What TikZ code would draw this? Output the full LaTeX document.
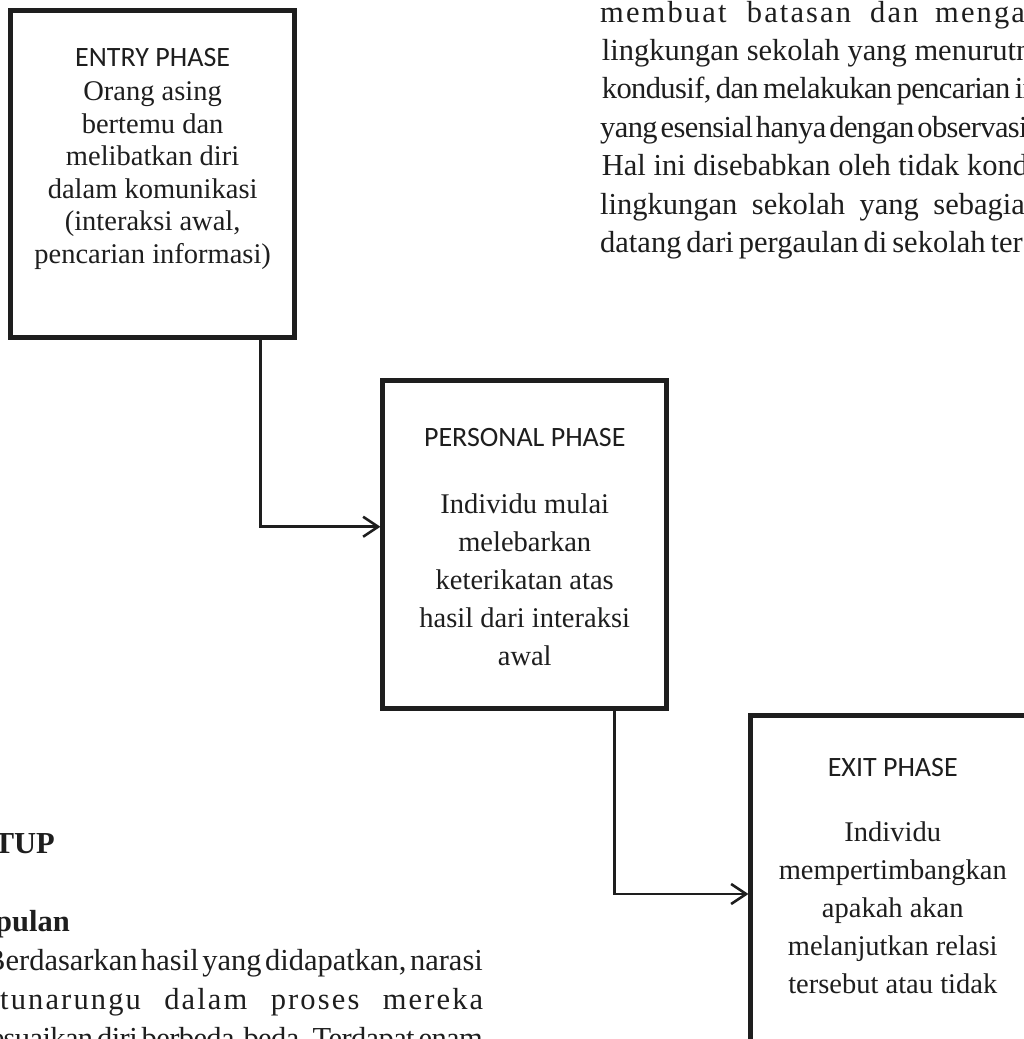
\documentclass[tikz,border=0pt]{standalone}
\usepackage{fontspec}
\setmainfont{Liberation Serif}
\newfontfamily\hdrfont{Carlito}
\newfontfamily\spreadserif[LetterSpace=7]{Liberation Serif}
\newfontfamily\tightserif[LetterSpace=-2]{Liberation Serif}
\newfontfamily\tightserifb[LetterSpace=-2]{Liberation Serif}
\usetikzlibrary{arrows.meta}
\definecolor{ink}{HTML}{1E1E1E}
\tikzset{
  phasebox/.style={draw=ink, line width=5pt, minimum width=283.6pt, minimum height=327.5pt, inner sep=0pt},
  hdr/.style={font=\hdrfont\fontsize{28}{33}\selectfont, anchor=base, inner sep=0pt, text=ink},
  boxtext/.style={font=\fontsize{28.5}{38}\selectfont, align=center, anchor=north, inner sep=0pt, text=ink},
  conn/.style={line width=2.6pt, draw=ink, -{Straight Barb[length=15pt,width=20pt]}},
  para/.style={font=\fontsize{30.5}{38.4}\selectfont, anchor=base west, inner sep=0pt, text=ink},
  spreadpara/.style={para, font=\spreadserif\fontsize{30.5}{38.4}\selectfont},
  headpara/.style={para, font=\bfseries\fontsize{30.5}{38.4}\selectfont, anchor=base east},
}
\newcommand{\firstrule}{\rule{0pt}{22pt}}
\begin{document}
\begin{tikzpicture}[x=1pt, y=-1pt]
\useasboundingbox[fill=white] (0,0) rectangle (1023,1039);

% phase boxes
\node[phasebox] (entry) at (152.65,173.75) {};
\node[phasebox] (personal) at (524.75,544.25) {};
\node[phasebox] (exit) at (892.75,878.75) {};

% entry texts
\node[hdr] (entryhdr) at (152.65,66.7) {ENTRY PHASE};
\node[boxtext, font=\fontsize{28.5}{32.5}\selectfont] (entrytxt) at (152.65,78.7)
  {\firstrule Orang asing\\ bertemu dan\\ melibatkan diri\\ dalam komunikasi\\ (interaksi awal,\\ pencarian informasi)};

% personal texts
\node[hdr] (personalhdr) at (524.75,446.7) {PERSONAL PHASE};
\node[boxtext] (personaltxt) at (524.75,491.5)
  {\firstrule Individu mulai\\ melebarkan\\ keterikatan atas\\ hasil dari interaksi\\ awal};

% exit texts
\node[hdr] (exithdr) at (892.75,776) {EXIT PHASE};
\node[boxtext] (exittxt) at (892.75,819.7)
  {\firstrule Individu\\ mempertimbangkan\\ apakah akan\\ melanjutkan relasi\\ tersebut atau tidak};

% connectors
\draw[conn] ([xshift=108pt]entry.south) |- ([yshift=17.5pt]personal.west);
\draw[conn] ([xshift=89.75pt]personal.south) |- ([yshift=-15.25pt]exit.west);

% page text, top right
\node[spreadpara] (p1a) at (600,22) {membuat};
\node[spreadpara] (p1b) at (746.7,22) {batasan};
\node[spreadpara] (p1c) at (870,22) {dan};
\node[spreadpara] (p1d) at (935,22) {menga};
\node[para] (p2) at (601.7,60.4) {lingkungan sekolah yang menurutn};
\node[para, font=\tightserif\fontsize{30.5}{38.4}\selectfont] (p3) at (601.7,98.8) {\spaceskip=4.5pt\relax kondusif, dan melakukan pencarian in};
\node[para, font=\tightserif\fontsize{30.5}{38.4}\selectfont] (p4) at (600,137.2) {\spaceskip=3pt\relax yang esensial hanya dengan observasi};
\node[para] (p5) at (601.7,175.6) {Hal ini disebabkan oleh tidak kond};
\node[para] (p6) at (600,214) {\spaceskip=14.5pt\relax lingkungan sekolah yang sebagia};
\node[para] (p7) at (600,252.4) {\spaceskip=5pt\relax datang dari pergaulan di sekolah ter};

% page text, bottom left
\node[headpara] (tup) at (55,853) {TUP};
\node[headpara] (pulan) at (70,931) {pulan};
\node[para, anchor=base east] (b1) at (483,970) {\spaceskip=3.5pt\relax Berdasarkan hasil yang didapatkan, narasi};
\node[para] (b2) at (0,1009) {\hbox to 483pt{\spreadserif tunarungu\hfil dalam\hfil proses\hfil mereka}};
\node[para, anchor=base east, font=\tightserifb\fontsize{30.5}{38.4}\selectfont] (b3) at (483,1048) {\spaceskip=4pt\relax menyesuaikan diri berbeda-beda. Terdapat enam};
\end{tikzpicture}
\end{document}
